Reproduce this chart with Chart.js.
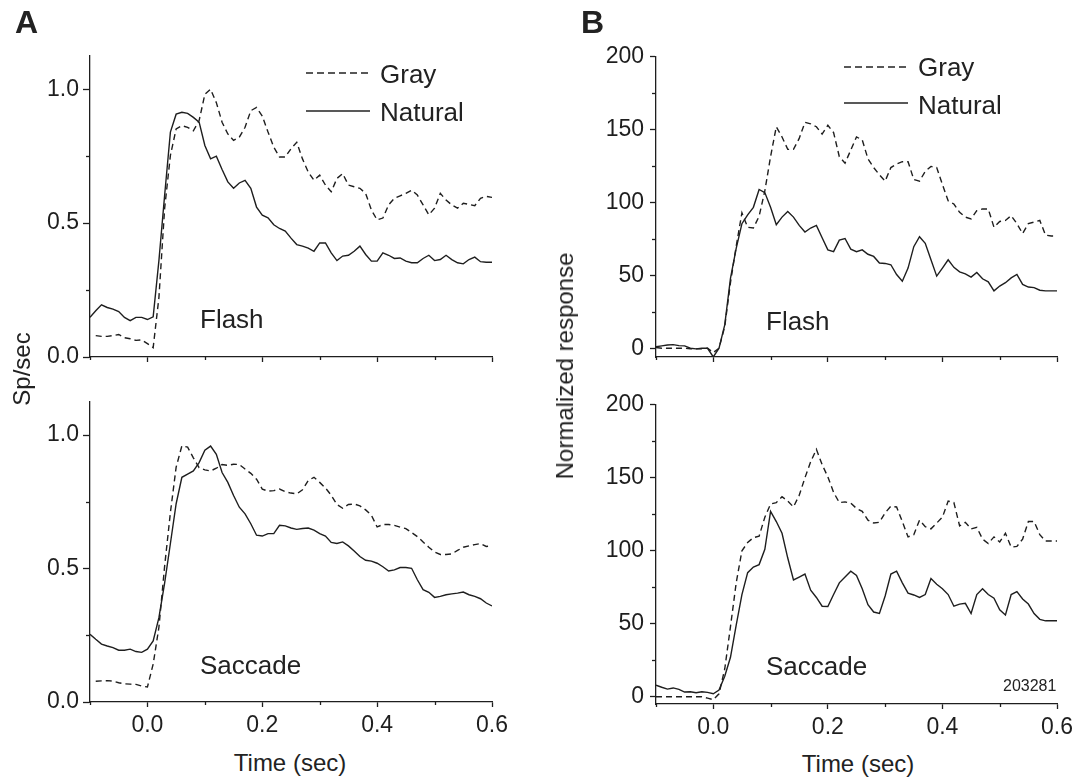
<!DOCTYPE html>
<html>
<head>
<meta charset="UTF-8">
<title>Flash / Saccade responses</title>
<script src="https://cdn.jsdelivr.net/npm/chart.js"></script>
<style>
  body { margin: 0; background: #fff; }
  #page { position: relative; width: 1085px; height: 783px; overflow: hidden;
          font-family: 'Liberation Sans', Arial, sans-serif; color: #222; }
  canvas { position: absolute; }
  .txt { position: absolute; line-height: 1; white-space: nowrap; z-index: 2; }
  .big { font-size: 26px; }
  .ttl { font-size: 24px; }
  .letter { font-size: 32px; font-weight: bold; }
  .vert { transform: translate(-50%, -50%) rotate(-90deg); }
  .cen { transform: translateX(-50%); }
  svg { position: absolute; z-index: 2; }
</style>
</head>
<body>
<div id="page">
  <canvas id="aTop" width="512" height="344" style="left:10px;top:38px"></canvas>
  <canvas id="aBot" width="512" height="358" style="left:10px;top:384px"></canvas>
  <canvas id="bTop" width="511" height="345" style="left:576px;top:37px"></canvas>
  <canvas id="bBot" width="511" height="359" style="left:576px;top:385px"></canvas>

  <div class="txt letter" style="left:15px;top:6px">A</div>
  <div class="txt letter" style="left:581px;top:6px">B</div>

  <div class="txt ttl vert" style="left:22px;top:369px">Sp/sec</div>
  <div class="txt ttl vert" style="left:565px;top:366px">Normalized response</div>
  <div class="txt ttl cen" style="left:290px;top:751px">Time (sec)</div>
  <div class="txt ttl cen" style="left:858px;top:752px">Time (sec)</div>

  <!-- legends -->
  <svg style="left:306px;top:70px" width="64" height="6"><line x1="0" y1="3" x2="64" y2="3" stroke="#222" stroke-width="1.5" stroke-dasharray="7,4"/></svg>
  <svg style="left:306px;top:108px" width="64" height="6"><line x1="0" y1="3" x2="64" y2="3" stroke="#222" stroke-width="1.5"/></svg>
  <div class="txt big" style="left:380px;top:61px">Gray</div>
  <div class="txt big" style="left:380px;top:99px">Natural</div>

  <svg style="left:844px;top:64px" width="64" height="6"><line x1="0" y1="3" x2="64" y2="3" stroke="#222" stroke-width="1.5" stroke-dasharray="7,4"/></svg>
  <svg style="left:844px;top:100px" width="64" height="6"><line x1="0" y1="3" x2="64" y2="3" stroke="#222" stroke-width="1.5"/></svg>
  <div class="txt big" style="left:918px;top:54px">Gray</div>
  <div class="txt big" style="left:918px;top:92px">Natural</div>

  <div class="txt big" style="left:200px;top:306px">Flash</div>
  <div class="txt big" style="left:200px;top:652px">Saccade</div>
  <div class="txt big" style="left:766px;top:308px">Flash</div>
  <div class="txt big" style="left:766px;top:653px">Saccade</div>
  <div class="txt" style="left:1003px;top:678px;font-size:16px">203281</div>
</div>

<script>
// time axis (sec)
const times = [-0.10,-0.09,-0.08,-0.07,-0.06,-0.05,-0.04,-0.03,-0.02,-0.01,
  0.00,0.01,0.02,0.03,0.04,0.05,0.06,0.07,0.08,0.09,
  0.10,0.11,0.12,0.13,0.14,0.15,0.16,0.17,0.18,0.19,
  0.20,0.21,0.22,0.23,0.24,0.25,0.26,0.27,0.28,0.29,
  0.30,0.31,0.32,0.33,0.34,0.35,0.36,0.37,0.38,0.39,
  0.40,0.41,0.42,0.43,0.44,0.45,0.46,0.47,0.48,0.49,
  0.50,0.51,0.52,0.53,0.54,0.55,0.56,0.57,0.58,0.59,0.60];

// panel A, flash (sp/sec)
const aFlashNatural = [0.148,0.173,0.195,0.185,0.179,0.170,0.148,0.136,0.148,0.148,
  0.140,0.150,0.360,0.605,0.840,0.907,0.914,0.910,0.895,0.877,
  0.790,0.740,0.750,0.700,0.654,0.630,0.650,0.660,0.630,0.560,
  0.530,0.520,0.494,0.480,0.470,0.444,0.420,0.414,0.407,0.395,
  0.426,0.426,0.389,0.360,0.377,0.380,0.395,0.414,0.383,0.358,
  0.358,0.389,0.380,0.368,0.370,0.358,0.352,0.352,0.368,0.380,
  0.360,0.364,0.380,0.364,0.352,0.348,0.364,0.373,0.356,0.354,0.354];
const aFlashGray = [null,0.080,0.077,0.077,0.080,0.084,0.072,0.068,0.062,0.064,
  0.050,0.035,0.222,0.556,0.753,0.852,0.864,0.858,0.845,0.883,
  0.981,1.000,0.950,0.877,0.833,0.809,0.821,0.858,0.920,0.932,
  0.900,0.840,0.784,0.747,0.747,0.778,0.802,0.740,0.691,0.660,
  0.679,0.642,0.617,0.667,0.685,0.642,0.636,0.630,0.611,0.549,
  0.512,0.519,0.568,0.593,0.602,0.611,0.623,0.605,0.568,0.531,
  0.556,0.611,0.586,0.568,0.556,0.574,0.570,0.565,0.593,0.600,0.596];

// panel A, saccade (sp/sec)
const aSaccNatural = [0.254,0.235,0.217,0.210,0.204,0.194,0.194,0.198,0.189,0.186,
  0.198,0.229,0.316,0.446,0.594,0.743,0.842,0.854,0.866,0.897,
  0.944,0.959,0.928,0.860,0.823,0.774,0.730,0.705,0.668,0.625,
  0.622,0.631,0.631,0.662,0.660,0.652,0.647,0.650,0.652,0.644,
  0.631,0.622,0.598,0.594,0.600,0.585,0.566,0.545,0.531,0.528,
  0.520,0.507,0.491,0.495,0.504,0.504,0.501,0.458,0.421,0.411,
  0.392,0.396,0.402,0.405,0.408,0.412,0.402,0.396,0.387,0.371,0.360];
const aSaccGray = [null,0.078,0.079,0.080,0.078,0.072,0.068,0.067,0.066,0.060,
  0.056,0.142,0.280,0.510,0.710,0.880,0.960,0.955,0.915,0.878,
  0.870,0.866,0.876,0.890,0.887,0.891,0.890,0.873,0.857,0.835,
  0.798,0.790,0.792,0.798,0.788,0.783,0.780,0.795,0.830,0.842,
  0.823,0.802,0.775,0.740,0.726,0.740,0.742,0.735,0.720,0.700,
  0.656,0.665,0.665,0.662,0.655,0.650,0.635,0.620,0.600,0.580,
  0.562,0.553,0.553,0.555,0.568,0.580,0.585,0.590,0.594,0.583,0.585];

// panel B, flash (normalized)
const bFlashNatural = [1,1.6,2.2,2.5,1.8,1.6,0,-0.4,0,0,
  -6,0,16,48,68.6,85.5,91.5,96.7,109,106.8,
  96.7,84.8,90,93.8,90,84.3,79.8,82.5,84.3,75.8,
  67.5,66.3,74.2,75.3,68,66.3,67.5,64.5,63,58.5,
  58.2,57.3,50.6,46,55,69.7,76.5,72,60.7,49.5,
  55,60.7,55.5,52.4,51,48.8,52,47.7,45.6,39.4,
  42.7,45,48.3,50.6,43.8,42,41.6,39.8,39.4,39.4,39.4];
const bFlashGray = [0.5,0,0,0,0,0,-0.3,-0.4,-0.3,0,
  -3,0,15,45,70,93,83,82.5,90.6,108,
  131.5,152,145,136.5,136.5,144,155,154,152,147,
  153,148,131.5,127,136,145,143,130,124,119,
  114.7,124,126.4,128,128,115.8,114.7,121.4,124.8,124,
  112.4,101.2,99,93.3,90,88.8,94.4,95.6,95.6,83,
  87,87.7,91,85.5,78.7,85.5,86.6,87.7,77.6,77,77];

// panel B, saccade (normalized)
const bSaccNatural = [7.9,6.5,5.2,6,5,3.2,3.4,2.7,3.4,3,
  2,4.5,14,27,49,70,85,88.8,90.5,101,
  127,120,112,95,80,82,84,73,68,62,
  61.8,70,78,82,86,83,74,63,58,57,
  69,84,86,78,71,69.7,68,70,81,77,
  74,70,62,63.4,64,57,70,74,70,67.5,
  59.6,56,70,72,67,63.5,57,53,52,52,52];
const bSaccGray = [0,0,0,0,0,0,0,0,0,-1,
  -2,2,19,48,78,100,105.6,109,110,123,
  132,133,137,134,130,138,150,161,169.5,159,
  150.6,140,133,133.5,132.6,129,127,121,119,119.5,
  126,130.5,130,120,109.5,111,121,116.5,115,119,
  123,134,133,117,119.5,115,116,108,105,109.5,
  106,112,102.5,103,108,120,120,111,106.7,106.7,106.7];

// axis ticks
const xMajor = [0.0, 0.2, 0.4, 0.6];
const xMinor = [-0.1, 0.1, 0.3, 0.5];
const aYMajor = [0.0, 0.5, 1.0];
const aYMinor = [0.25, 0.75];
const bYMajor = [0, 50, 100, 150, 200];
const bYMinor = [25, 75, 125, 175];

Chart.defaults.font.family = "'Liberation Sans', Arial, sans-serif";
Chart.defaults.color = '#222';

const INK = '#1e1e1e';
const YW = 80, PT = 15, PR = 30;

// short minor tick marks drawn through the chart's own scales
const minorTicks = {
  id: 'minorTicks',
  afterDraw(chart, args, opts) {
    const ctx = chart.ctx, xs = chart.scales.x, ys = chart.scales.y;
    ctx.save();
    ctx.strokeStyle = INK;
    ctx.lineWidth = 1.3;
    opts.x.forEach(v => {
      const px = Math.round(xs.getPixelForValue(v)) + 0.5;
      ctx.beginPath(); ctx.moveTo(px, xs.top); ctx.lineTo(px, xs.top + 3); ctx.stroke();
    });
    opts.y.forEach(v => {
      const py = Math.round(ys.getPixelForValue(v)) + 0.5;
      ctx.beginPath(); ctx.moveTo(ys.right, py); ctx.lineTo(ys.right - 4, py); ctx.stroke();
    });
    ctx.restore();
  }
};

function series(vals) {
  return times.map((t, i) => ({ x: t, y: vals[i] }));
}

function makePanel(id, natural, gray, cfg) {
  new Chart(document.getElementById(id), {
    type: 'line',
    data: {
      datasets: [
        { label: 'Natural', data: series(natural), borderColor: INK, borderWidth: 1.4,
          pointRadius: 0, tension: 0, fill: false },
        { label: 'Gray', data: series(gray), borderColor: INK, borderWidth: 1.4,
          borderDash: [6, 4], pointRadius: 0, tension: 0, fill: false }
      ]
    },
    options: {
      responsive: false,
      animation: false,
      layout: { padding: { top: PT, right: PR, left: 0, bottom: 0 } },
      plugins: {
        legend: { display: false },
        tooltip: { enabled: false },
        minorTicks: { x: xMinor, y: cfg.yMinor }
      },
      scales: {
        x: {
          type: 'linear', min: -0.1, max: 0.6,
          afterBuildTicks: s => { s.ticks = xMajor.map(v => ({ value: v })); },
          afterFit: s => { s.height = cfg.xh; },
          grid: { drawOnChartArea: false, tickLength: 5, tickColor: INK, tickWidth: 1.3 },
          border: { color: INK, width: 1.3 },
          ticks: { display: cfg.showX, padding: 5, font: { size: 23 }, color: INK,
                   callback: v => v.toFixed(1) }
        },
        y: {
          min: cfg.yMin, max: cfg.yMax,
          afterBuildTicks: s => { s.ticks = cfg.yMajor.map(v => ({ value: v })); },
          afterFit: s => { s.width = YW; },
          grid: { drawOnChartArea: false, tickLength: cfg.yTick, tickColor: INK, tickWidth: 1.3 },
          border: { color: INK, width: 1.3 },
          ticks: { padding: cfg.yPad, font: { size: 23 }, color: INK, callback: cfg.fmt }
        }
      }
    },
    plugins: [minorTicks]
  });
}

const aCfg = { yMin: 0, yMax: 1.125, yMajor: aYMajor, yMinor: aYMinor, yTick: 7, yPad: 4,
               fmt: v => v.toFixed(1) };
const bCfg = { yMajor: bYMajor, yMinor: bYMinor, yTick: 6, yPad: 6, fmt: v => String(v) };

makePanel('aTop', aFlashNatural, aFlashGray, Object.assign({}, aCfg, { showX: false, xh: 25 }));
makePanel('aBot', aSaccNatural, aSaccGray, Object.assign({}, aCfg, { showX: true, xh: 40 }));
makePanel('bTop', bFlashNatural, bFlashGray, Object.assign({}, bCfg, { yMin: -6, yMax: 200, showX: false, xh: 25 }));
makePanel('bBot', bSaccNatural, bSaccGray, Object.assign({}, bCfg, { yMin: -5, yMax: 200, showX: true, xh: 40 }));
</script>
</body>
</html>
